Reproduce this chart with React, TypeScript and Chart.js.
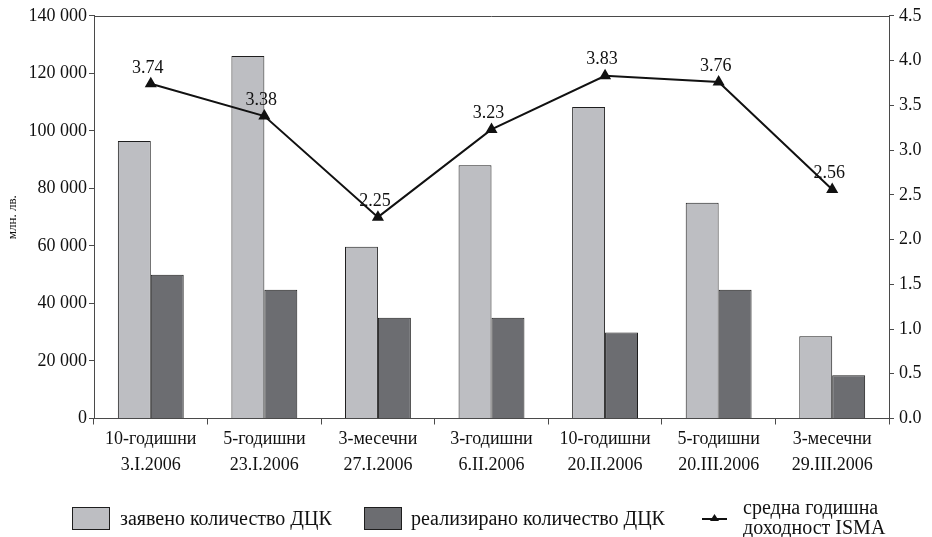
import React, { useEffect, useRef } from "react";
import { Chart, registerables } from "chart.js";

Chart.register(...registerables);

const categories: string[][] = [
  ["10-годишни", "3.I.2006"],
  ["5-годишни", "23.I.2006"],
  ["3-месечни", "27.I.2006"],
  ["3-годишни", "6.II.2006"],
  ["10-годишни", "20.II.2006"],
  ["5-годишни", "20.III.2006"],
  ["3-месечни", "29.III.2006"],
];
const declared: number[] = [96500, 126000, 59700, 88000, 108300, 75000, 28600];
const realized: number[] = [50000, 44800, 35000, 35000, 29900, 44800, 15000];
const yieldIsma: number[] = [3.74, 3.38, 2.25, 3.23, 3.83, 3.76, 2.56];

const seriesNames = ["заявено количество ДЦК", "реализирано количество ДЦК", ["средна годишна", "доходност ISMA"]];
const yTitle = "млн. лв.";

const LIGHT = "#bdbec2";
const DARK = "#6c6d71";
const EDGE = "#1e1e1e";
const AXIS = "#4a4a4a";
const FONT = "'Liberation Serif', 'DejaVu Serif', serif";

const fmtThousands = (v: number) => String(v).replace(/\B(?=(\d{3})+(?!\d))/g, " ");

const decorPlugin = {
  id: "decor",
  afterDatasetsDraw(chart: any) {
    const ctx = chart.ctx;
    const ca = chart.chartArea;
    ctx.save();
    // top frame line
    ctx.strokeStyle = AXIS;
    ctx.lineWidth = 1;
    ctx.beginPath();
    ctx.moveTo(ca.left, Math.round(ca.top) + 0.5);
    ctx.lineTo(ca.right, Math.round(ca.top) + 0.5);
    ctx.stroke();
    // line labels
    const meta = chart.getDatasetMeta(2);
    ctx.fillStyle = "#111";
    ctx.font = `18px ${FONT}`;
    ctx.textAlign = "center";
    ctx.textBaseline = "middle";
    meta.data.forEach((pt: any, i: number) => {
      ctx.fillText(yieldIsma[i].toFixed(2), pt.x - 3, pt.y - 16);
    });
    ctx.restore();
  },
  afterDraw(chart: any) {
    const ctx = chart.ctx;
    ctx.save();
    ctx.font = `20px ${FONT}`;
    ctx.textBaseline = "middle";
    ctx.textAlign = "left";
    const cy = 519;
    ctx.strokeStyle = EDGE;
    ctx.lineWidth = 1;
    // item 1
    ctx.fillStyle = LIGHT;
    ctx.fillRect(72, cy - 12, 37, 22);
    ctx.strokeRect(72.5, cy - 11.5, 37, 22);
    ctx.fillStyle = "#111";
    ctx.fillText(seriesNames[0] as string, 120, cy + 1);
    // item 2
    ctx.fillStyle = DARK;
    ctx.fillRect(364, cy - 12, 37, 22);
    ctx.strokeRect(364.5, cy - 11.5, 37, 22);
    ctx.fillStyle = "#111";
    ctx.fillText(seriesNames[1] as string, 411, cy + 1);
    // item 3
    ctx.strokeStyle = "#111";
    ctx.lineWidth = 2;
    ctx.beginPath();
    ctx.moveTo(702, cy);
    ctx.lineTo(727, cy);
    ctx.stroke();
    ctx.beginPath();
    ctx.moveTo(714.5, cy - 5);
    ctx.lineTo(719, cy + 2);
    ctx.lineTo(710, cy + 2);
    ctx.closePath();
    ctx.fillStyle = "#111";
    ctx.fill();
    const lines = seriesNames[2] as string[];
    ctx.fillText(lines[0], 743, cy - 10);
    ctx.fillText(lines[1], 743, cy + 10);
    ctx.restore();
  },
};

export default function App() {
  const ref = useRef<HTMLCanvasElement | null>(null);
  useEffect(() => {
    if (!ref.current) return;
    const chart = new Chart(ref.current, {
      type: "bar",
      data: {
        labels: categories,
        datasets: [
          {
            type: "bar",
            label: "заявено количество ДЦК",
            data: declared,
            backgroundColor: LIGHT,
            borderColor: EDGE,
            borderWidth: 1,
            yAxisID: "y",
            order: 2,
            barPercentage: 1,
            categoryPercentage: 0.58,
          },
          {
            type: "bar",
            label: "реализирано количество ДЦК",
            data: realized,
            backgroundColor: DARK,
            borderColor: EDGE,
            borderWidth: 1,
            yAxisID: "y",
            order: 2,
            barPercentage: 1,
            categoryPercentage: 0.58,
          },
          {
            type: "line",
            label: "средна годишна доходност ISMA",
            data: yieldIsma,
            borderColor: "#111",
            backgroundColor: "#111",
            borderWidth: 2,
            pointStyle: "triangle",
            pointRadius: 5,
            pointBackgroundColor: "#111",
            pointBorderColor: "#111",
            tension: 0,
            yAxisID: "y1",
            order: 0,
          },
        ],
      } as any,
      options: {
        animation: false,
        responsive: false,
        layout: { padding: { top: 14, left: 0, right: 0, bottom: 0 } },
        plugins: {
          legend: { display: false },
          tooltip: { enabled: false },
        },
        scales: {
          x: {
            offset: true,
            grid: { display: true, offset: true, drawOnChartArea: false, tickLength: 6, color: AXIS },
            border: { display: true, color: AXIS, width: 1 },
            ticks: {
              color: "#111",
              font: { family: FONT, size: 18, lineHeight: 1.45 },
              padding: 2,
              maxRotation: 0,
              autoSkip: false,
            },
            afterFit: (s: any) => {
              s.height = 118.5;
            },
          },
          y: {
            position: "left",
            min: 0,
            max: 140000,
            ticks: {
              stepSize: 20000,
              color: "#111",
              font: { family: FONT, size: 18 },
              padding: 2,
              callback: (v: any) => fmtThousands(Number(v)),
            },
            grid: { display: true, drawOnChartArea: false, tickLength: 5, color: AXIS },
            border: { display: true, color: AXIS, width: 1 },
            title: {
              display: true,
              text: yTitle,
              color: "#111",
              font: { family: FONT, size: 13 },
              padding: { top: 5, bottom: 0 },
            },
            afterFit: (s: any) => {
              s.width = 94;
            },
          },
          y1: {
            position: "right",
            min: 0,
            max: 4.5,
            ticks: {
              stepSize: 0.5,
              color: "#111",
              font: { family: FONT, size: 18 },
              padding: 5,
              callback: (v: any) => Number(v).toFixed(1),
            },
            grid: { display: true, drawOnChartArea: false, tickLength: 5, color: AXIS },
            border: { display: true, color: AXIS, width: 1 },
            afterFit: (s: any) => {
              s.width = 43;
            },
          },
        },
      } as any,
      plugins: [decorPlugin],
    });
    return () => chart.destroy();
  }, []);
  return (
    <div style={{ position: "absolute", left: 0, top: 0, width: 932, height: 537, background: "#fff" }}>
      <canvas ref={ref} width={932} height={537} style={{ width: 932, height: 537 }} />
    </div>
  );
}
